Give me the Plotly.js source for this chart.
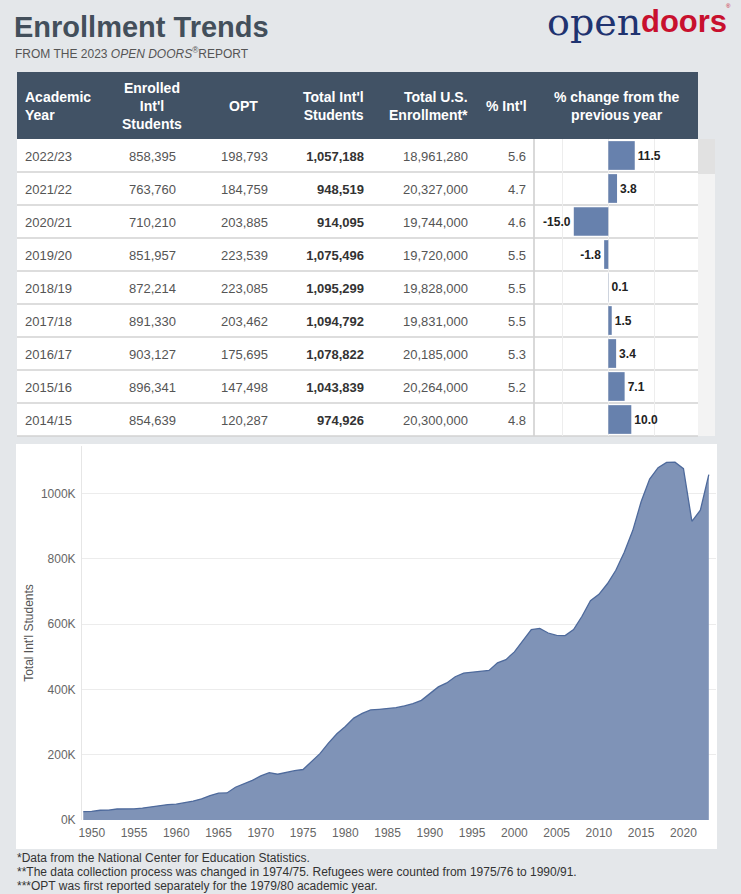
<!DOCTYPE html>
<html><head><meta charset="utf-8">
<script src="https://cdn.plot.ly/plotly-3.0.1.min.js"></script>
<style>html,body{margin:0;padding:0;background:#e4e7ea;} #chart{width:741px;height:894px;}</style>
</head><body><div id="chart"></div>
<script>
// ---------- data ----------
const academicYears = ['2022/23','2021/22','2020/21','2019/20','2018/19','2017/18','2016/17','2015/16','2014/15'];
const enrolledIntl = [858395, 763760, 710210, 851957, 872214, 891330, 903127, 896341, 854639];
const optStudents = [198793, 184759, 203885, 223539, 223085, 203462, 175695, 147498, 120287];
const totalIntl = [1057188, 948519, 914095, 1075496, 1095299, 1094792, 1078822, 1043839, 974926];
const totalUS = [18961280, 20327000, 19744000, 19720000, 19828000, 19831000, 20185000, 20264000, 20300000];
const pctIntl = [5.6, 4.7, 4.6, 5.5, 5.5, 5.5, 5.3, 5.2, 4.8];
const pctChange = [11.5, 3.8, -15.0, -1.8, 0.1, 1.5, 3.4, 7.1, 10.0];

const headerLabels = ['Academic<br>Year', 'Enrolled<br>Int\'l<br>Students', 'OPT', 'Total Int\'l<br>Students',
  'Total U.S.<br>Enrollment*', '% Int\'l', '% change from the<br>previous year'];

const histYears = [1949,1950,1951,1952,1953,1954,1955,1956,1957,1958,1959,1960,1961,1962,1963,1964,1965,1966,1967,1968,
  1969,1970,1971,1972,1973,1974,1975,1976,1977,1978,1979,1980,1981,1982,1983,1984,1985,1986,1987,1988,1989,1990,1991,1992,
  1993,1994,1995,1996,1997,1998,1999,2000,2001,2002,2003,2004,2005,2006,2007,2008,2009,2010,2011,2012,2013,2014,2015,2016,
  2017,2018,2019,2020,2021,2022,2023];
const histTotal = [25464,26433,29813,30462,33675,33833,34232,36494,40666,43391,47245,48486,53107,58086,64705,74814,82045,82709,
  100262,110315,121362,134959,144708,140126,146097,151066,154580,179344,203068,235509,263938,286343,311882,326299,336985,
  338894,342113,343777,349609,356187,366354,386851,407529,419585,438618,449749,452635,453787,457984,481280,490933,514723,
  547867,582996,586323,572509,565039,564766,582984,623805,671616,690923,723277,764495,819644,886052,974926,1043839,1078822,
  1094792,1095299,1075496,914095,948519,1057188];
const yTickVals = [0, 200000, 400000, 600000, 800000, 1000000];
const xTickVals = [1950,1955,1960,1965,1970,1975,1980,1985,1990,1995,2000,2005,2010,2015,2020];
const footnotes = [
  '*Data from the National Center for Education Statistics.',
  '**The data collection process was changed in 1974/75. Refugees were counted from 1975/76 to 1990/91.',
  '***OPT was first reported separately for the 1979/80 academic year.'
];

// ---------- helpers / layout constants ----------
const W = 741, H = 894;
const px = x => x / W;
const py = y => 1 - y / H;
const fmt = v => v.toLocaleString('en-US');
const FONT = 'Liberation Sans, Arial, sans-serif';
const tableLeft = 17, tableRight = 698, barLeft = 534;
const tableTop = 72, headerH = 67, rowH = 33;
const bodyTop = tableTop + headerH;
const bodyBottom = bodyTop + rowH * academicYears.length;
const colWidths = [101, 66, 92, 96, 104, 58];
const headerPos = [[23, 'left'], [152, 'center'], [260, 'right'], [366, 'right'], [470, 'right'], [529, 'right'], [616, 'center']];
const emptyHeaderOffset = 12;

// ---------- traces ----------
const tableTrace = {
  type: 'table',
  domain: {x: [px(tableLeft), px(barLeft)], y: [py(bodyBottom + 1), py(bodyTop - emptyHeaderOffset)]},
  columnwidth: colWidths,
  header: {values: [], height: 1, fill: {color: 'rgba(0,0,0,0)'}, line: {color: 'rgba(0,0,0,0)', width: 0}},
  cells: {
    values: [
      academicYears,
      enrolledIntl.map(fmt),
      optStudents.map(fmt),
      totalIntl.map(fmt),
      totalUS.map(fmt),
      pctIntl.map(v => v.toFixed(1))
    ],
    align: ['left','right','right','right','right','right'],
    fill: {color: 'rgba(0,0,0,0)'},
    line: {color: 'rgba(0,0,0,0)', width: 0},
    font: {family: FONT, size: 13, color: ['#555','#555','#555','#333','#555','#555'],
           weight: ['normal','normal','normal','bold','normal','normal']},
    height: rowH
  }
};

const barTrace = {
  type: 'bar', orientation: 'h',
  x: pctChange, y: academicYears,
  xaxis: 'x2', yaxis: 'y2',
  width: 0.87,
  marker: {color: '#6781ad'},
  text: pctChange.map(v => v.toFixed(1)),
  textposition: 'outside',
  constraintext: 'none',
  cliponaxis: false,
  textfont: {family: FONT, size: 12, color: '#222', weight: 'bold'},
  hoverinfo: 'skip'
};

const areaTrace = {
  type: 'scatter', mode: 'lines',
  x: histYears, y: histTotal,
  fill: 'tozeroy', fillcolor: '#7f93b7',
  line: {color: '#4e6a9c', width: 1.3},
  hoverinfo: 'skip'
};

// ---------- shapes ----------
const shapes = [
  {type: 'rect', xref: 'paper', yref: 'paper', x0: px(16), x1: px(717), y0: py(849), y1: py(444),
   fillcolor: '#ffffff', line: {width: 0}, layer: 'below'},
  {type: 'rect', xref: 'paper', yref: 'paper', x0: px(tableLeft), x1: px(tableRight), y0: py(bodyTop), y1: py(tableTop),
   fillcolor: '#415265', line: {width: 0}, layer: 'below'},
  {type: 'rect', xref: 'paper', yref: 'paper', x0: px(tableLeft), x1: px(tableRight), y0: py(bodyBottom), y1: py(bodyTop),
   fillcolor: '#ffffff', line: {width: 0}, layer: 'below'},
  {type: 'rect', xref: 'paper', yref: 'paper', x0: px(tableRight), x1: px(715), y0: py(bodyBottom), y1: py(bodyTop),
   fillcolor: '#f3f3f3', line: {width: 0}, layer: 'below'},
  {type: 'rect', xref: 'paper', yref: 'paper', x0: px(tableRight), x1: px(715), y0: py(bodyTop + 35), y1: py(bodyTop),
   fillcolor: '#e1e1e1', line: {width: 0}, layer: 'below'},
  {type: 'line', xref: 'paper', yref: 'paper', x0: px(barLeft), x1: px(barLeft), y0: py(bodyBottom), y1: py(bodyTop),
   line: {color: '#cccccc', width: 1.5}, layer: 'below'}
];
for (let i = 1; i <= academicYears.length; i++) {
  const y = bodyTop + i * rowH;
  shapes.push({type: 'line', xref: 'paper', yref: 'paper', x0: px(tableLeft), x1: px(tableRight), y0: py(y), y1: py(y),
    line: {color: '#d2d2d2', width: 1.5}, layer: 'below'});
}

// ---------- annotations ----------
const annotations = [
  {text: '<b>Enrollment Trends</b>', xref: 'paper', yref: 'paper', x: px(12), y: py(27), xanchor: 'left', yanchor: 'middle',
   showarrow: false, font: {family: FONT, size: 29, color: '#434f5b'}},
  {text: 'FROM THE 2023 <i>OPEN DOORS</i><sup>®</sup>REPORT', xref: 'paper', yref: 'paper', x: px(13), y: py(53),
   xanchor: 'left', yanchor: 'middle', showarrow: false, font: {family: FONT, size: 12, color: '#555'}},
  {text: 'open', xref: 'paper', yref: 'paper', x: px(643), y: py(22), xanchor: 'right', yanchor: 'middle',
   showarrow: false, font: {family: 'DejaVu Serif, Liberation Serif, serif', size: 38, color: '#1f3370'}},
  {text: '<b>doors</b>', xref: 'paper', yref: 'paper', x: px(639), y: py(21), xanchor: 'left', yanchor: 'middle',
   showarrow: false, font: {family: FONT, size: 31, color: '#c8102e'}},
  {text: '®', xref: 'paper', yref: 'paper', x: px(728), y: py(6), xanchor: 'center', yanchor: 'middle',
   showarrow: false, font: {family: FONT, size: 6, color: '#c8102e'}}
];
headerLabels.forEach((t, i) => annotations.push({
  text: '<b>' + t + '</b>', xref: 'paper', yref: 'paper', x: px(headerPos[i][0]), y: py(tableTop + headerH / 2),
  xanchor: headerPos[i][1], yanchor: 'middle', align: headerPos[i][1], showarrow: false,
  font: {family: FONT, size: 14, color: '#ffffff'}
}));
footnotes.forEach((t, i) => annotations.push({
  text: t, xref: 'paper', yref: 'paper', x: px(15), y: py(858 + i * 14), xanchor: 'left', yanchor: 'middle',
  showarrow: false, font: {family: FONT, size: 12, color: '#333'}
}));

// ---------- layout ----------
const layout = {
  width: W, height: H,
  margin: {l: 0, r: 0, t: 0, b: 0},
  paper_bgcolor: '#e4e7ea', plot_bgcolor: '#ffffff',
  showlegend: false,
  font: {family: FONT, color: '#555'},
  xaxis: {
    domain: [px(82), px(716)], range: [1948.85, 2023.85], anchor: 'y',
    tickvals: xTickVals, showgrid: false, zeroline: false, ticks: '', showline: false, ticklabelstandoff: 4,
    tickfont: {family: FONT, size: 12, color: '#666'}, fixedrange: true
  },
  yaxis: {
    domain: [py(820), py(446)], range: [0, 1145000], anchor: 'x',
    tickvals: yTickVals, ticktext: yTickVals.map(v => (v / 1000) + 'K'),
    gridcolor: '#ececec', zeroline: false, showline: true, linecolor: '#e6e6e6', ticks: '', ticklabelstandoff: 3,
    tickfont: {family: FONT, size: 12, color: '#666'},
    title: {text: 'Total Int\'l Students', font: {family: FONT, size: 12, color: '#555'}, standoff: 4},
    automargin: false, fixedrange: true
  },
  xaxis2: {
    domain: [px(barLeft), px(tableRight)], range: [-32.3, 39], anchor: 'y2',
    tickvals: [-20, 0, 20], showticklabels: false, gridcolor: '#ededed', zeroline: false, showline: false, ticks: '',
    fixedrange: true
  },
  yaxis2: {
    domain: [py(bodyBottom), py(bodyTop)], anchor: 'x2', type: 'category',
    categoryorder: 'array', categoryarray: academicYears, range: [academicYears.length - 0.5, -0.5],
    showticklabels: false, showgrid: false, zeroline: false, ticks: '', fixedrange: true
  },
  shapes: shapes,
  annotations: annotations
};

Plotly.newPlot('chart', [areaTrace, barTrace, tableTrace], layout, {displayModeBar: false, staticPlot: true});
</script></body></html>
